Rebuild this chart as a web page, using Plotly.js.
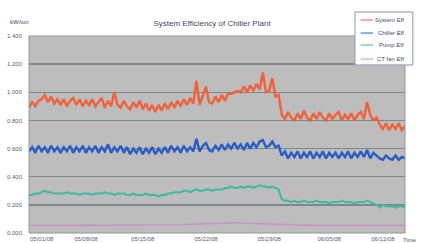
<!DOCTYPE html>
<html>
<head>
<meta charset="utf-8">
<script src="https://cdn.plot.ly/plotly-3.0.1.min.js"></script>
<style>html,body{margin:0;padding:0;background:#fff;}#chart{width:424px;height:243px;}</style>
</head>
<body>
<div id="chart"></div>
<script>
const seriesNames = ["System Eff", "Chiller Eff", "Pump Eff", "CT fan Eff"];

const systemEff = [
  0.89,0.93,0.90,0.94,0.95,0.98,0.93,0.97,0.92,0.95,
  0.91,0.95,0.90,0.94,0.96,0.91,0.95,0.90,0.94,0.91,
  0.95,0.90,0.93,0.96,0.89,0.94,0.90,1.00,0.91,0.89,
  0.94,0.90,0.88,0.93,0.89,0.94,0.88,0.92,0.87,0.91,
  0.86,0.91,0.87,0.92,0.88,0.93,0.89,0.94,0.90,0.95,
  0.91,0.96,0.92,1.08,0.91,0.97,1.04,0.93,0.92,0.97,
  0.93,0.98,0.94,0.99,0.99,1.00,1.01,1.00,1.04,1.00,
  1.05,1.01,1.06,1.02,1.14,1.00,1.01,1.10,0.97,0.98,
  0.84,0.81,0.86,0.82,0.80,0.85,0.81,0.87,0.82,0.80,
  0.85,0.81,0.86,0.82,0.80,0.85,0.81,0.84,0.86,0.80,
  0.84,0.81,0.85,0.80,0.84,0.86,0.81,0.93,0.84,0.80,
  0.82,0.77,0.74,0.78,0.73,0.77,0.74,0.78,0.73,0.76
];
const chillerEff = [
  0.58,0.61,0.57,0.62,0.58,0.61,0.57,0.62,0.58,0.61,
  0.57,0.61,0.58,0.62,0.57,0.61,0.58,0.62,0.57,0.61,
  0.58,0.62,0.57,0.61,0.58,0.63,0.57,0.61,0.58,0.62,
  0.57,0.61,0.56,0.60,0.57,0.61,0.56,0.60,0.57,0.61,
  0.56,0.60,0.57,0.61,0.57,0.62,0.58,0.61,0.57,0.62,
  0.58,0.61,0.58,0.67,0.58,0.62,0.64,0.59,0.58,0.62,
  0.59,0.63,0.59,0.63,0.60,0.64,0.60,0.63,0.59,0.64,
  0.60,0.64,0.61,0.65,0.66,0.61,0.62,0.65,0.61,0.62,
  0.55,0.58,0.53,0.57,0.54,0.58,0.53,0.57,0.54,0.58,
  0.53,0.57,0.54,0.58,0.53,0.57,0.54,0.57,0.53,0.57,
  0.54,0.58,0.53,0.57,0.54,0.58,0.54,0.59,0.53,0.57,
  0.55,0.53,0.52,0.55,0.53,0.52,0.55,0.52,0.54,0.53
];
const pumpEff = [
  0.27,0.27,0.28,0.28,0.29,0.30,0.29,0.29,0.28,0.28,
  0.28,0.28,0.29,0.28,0.28,0.28,0.27,0.28,0.28,0.28,
  0.27,0.28,0.28,0.28,0.29,0.28,0.28,0.27,0.28,0.28,
  0.28,0.27,0.27,0.28,0.27,0.27,0.27,0.28,0.27,0.27,
  0.27,0.26,0.27,0.27,0.28,0.28,0.29,0.29,0.29,0.30,
  0.30,0.29,0.30,0.31,0.30,0.30,0.31,0.31,0.30,0.31,
  0.31,0.31,0.32,0.32,0.33,0.32,0.32,0.33,0.32,0.33,
  0.33,0.32,0.33,0.34,0.33,0.33,0.32,0.33,0.32,0.31,
  0.24,0.23,0.23,0.22,0.23,0.22,0.22,0.23,0.22,0.22,
  0.22,0.23,0.22,0.22,0.22,0.21,0.22,0.22,0.22,0.23,
  0.22,0.22,0.22,0.21,0.22,0.22,0.22,0.23,0.22,0.21,
  0.20,0.18,0.20,0.19,0.19,0.19,0.18,0.19,0.19,0.18
];
const ctFanEff = [
  0.055,0.056,0.055,0.054,0.056,0.055,0.055,0.056,0.054,0.055,
  0.055,0.054,0.056,0.055,0.055,0.054,0.055,0.056,0.055,0.054,
  0.055,0.056,0.055,0.055,0.054,0.055,0.056,0.055,0.054,0.055,
  0.055,0.054,0.055,0.055,0.056,0.055,0.054,0.055,0.055,0.056,
  0.055,0.055,0.056,0.056,0.057,0.057,0.058,0.058,0.059,0.060,
  0.060,0.061,0.062,0.063,0.064,0.065,0.066,0.067,0.068,0.069,
  0.070,0.071,0.072,0.073,0.072,0.073,0.072,0.071,0.070,0.069,
  0.068,0.067,0.066,0.065,0.064,0.063,0.062,0.061,0.060,0.059,
  0.058,0.057,0.057,0.056,0.056,0.055,0.055,0.056,0.055,0.054,
  0.055,0.055,0.054,0.055,0.056,0.055,0.055,0.054,0.055,0.055,
  0.054,0.055,0.055,0.056,0.055,0.054,0.055,0.055,0.054,0.055,
  0.055,0.054,0.055,0.055,0.054,0.055,0.054,0.055,0.055,0.054
];

const tickPositions = [4, 18, 36, 56, 76, 95, 112];
const tickLabels = ["05/01/08","05/08/08","05/15/08","05/22/08","05/29/08","06/05/08","06/12/08"];
const yTicks = [0, 0.2, 0.4, 0.6, 0.8, 1.0, 1.2, 1.4];

const colors = ["#f2603c", "#2a5cc6", "#3fb8a6", "#c993c9"];
const seriesData = [systemEff, chillerEff, pumpEff, ctFanEff];
const widths = [2.4, 2.4, 2.0, 1.6];

const traces = seriesData.map((ys, k) => ({
  y: ys,
  type: "scatter",
  mode: "lines",
  name: seriesNames[k],
  line: {color: colors[k], width: widths[k]},
  hoverinfo: "skip",
  showlegend: false
}));

const legendY = [1.081, 1.015, 0.954, 0.883];
const font = "Liberation Sans, Arial";
const shapes = [
  {type: "rect", xref: "paper", yref: "paper", x0: 0, x1: 1, y0: 0, y1: 1,
   line: {color: "#8e9a9a", width: 1}},
  {type: "rect", xref: "paper", yref: "paper", x0: 0.867, x1: 1.021, y0: 0.853, y1: 1.122,
   fillcolor: "#ffffff", line: {color: "#8a9aaa", width: 1}, layer: "above"}
];
const annotations = [
  {text: "kW/ton", xref: "paper", yref: "paper", x: -0.055, y: 1.07, xanchor: "left", yanchor: "middle",
   showarrow: false, font: {family: font, size: 6, color: "#3b4a5c"}},
  {text: "Time", xref: "paper", yref: "paper", x: 0.99, y: -0.012, xanchor: "left", yanchor: "top",
   showarrow: false, font: {family: font, size: 6, color: "#556070"}}
];
seriesNames.forEach((nm, k) => {
  shapes.push({type: "line", xref: "paper", yref: "paper", x0: 0.882, x1: 0.915,
    y0: legendY[k], y1: legendY[k], line: {color: colors[k], width: 1}, layer: "above"});
  annotations.push({text: nm, xref: "paper", yref: "paper", x: 1.003, y: legendY[k],
    xanchor: "right", yanchor: "middle", showarrow: false,
    font: {family: font, size: 6, color: "#3b4a5c"}});
});

const layout = {
  width: 424, height: 243,
  margin: {l: 29, r: 19, t: 36, b: 10},
  paper_bgcolor: "#ffffff",
  plot_bgcolor: "#bdbdbd",
  showlegend: false,
  title: {
    text: "System Efficiency of Chiller Plant",
    font: {family: font, size: 8, color: "#3b4a5c"},
    x: 0.5, xanchor: "center", y: 0.905, yanchor: "middle", yref: "container"
  },
  xaxis: {
    range: [0, 119],
    tickvals: tickPositions, ticktext: tickLabels,
    tickfont: {family: font, size: 6, color: "#556070"},
    showgrid: false, zeroline: false,
    showline: false, ticks: "", ticklabelstandoff: 1
  },
  yaxis: {
    range: [0, 1.4],
    tickvals: yTicks, tickformat: ".3f",
    tickfont: {family: font, size: 6, color: "#556070"},
    showgrid: true, gridcolor: "#7c8a8a", gridwidth: 1.5,
    zeroline: false, showline: false, ticks: "", ticklabelstandoff: 6
  },
  shapes: shapes,
  annotations: annotations
};

Plotly.newPlot("chart", traces, layout, {displayModeBar: false, staticPlot: true});
</script>
</body>
</html>
